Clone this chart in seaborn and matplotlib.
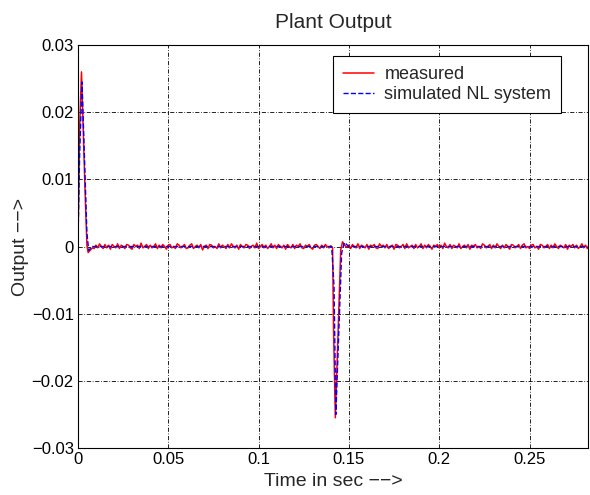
import numpy as np
import pandas as pd
import matplotlib
matplotlib.use("Agg")
import matplotlib.pyplot as plt
import seaborn as sns

sns.set_style("white")
plt.rcParams["font.family"] = ["Liberation Sans", "DejaVu Sans"]

# measured: first pulse (time, output)
pulse1_t = [0.0, 0.001, 0.002, 0.003, 0.004, 0.005, 0.0057, 0.007, 0.008]
pulse1_y = [0.0, 0.018, 0.026, 0.017, 0.008, 0.0002, -0.0009, -0.0005, -0.0002]

# measured: flat noisy part after first pulse, 1 ms steps from 0.009 (units 1e-4)
noise_a = [-3, 2, -2, 4, 0, -3, 3, -2, 2, -4, 3, 0, -2, 4, -3, 2, 0, -3, 3, 2,
           -2, -4, 3, 0, 2, -3, 5, -2, 0, 3, -3, 2, -2, 0, 4, -3, 2, -2, 3, 0,
           -4, 2, 3, -2, 0, -3, 4, 2, -2, 0, 3, -3, -2, 2, 4, -3, 0, 2, -2, 3,
           -5, 0, 2, -3, 3, 2, -2, 0, -3, 4, -2, 2, 0, -3, 3, -2, 4, 0, -2, 2,
           -4, 3, 0, -2, 3, 2, -3, 0, 2, -2, 5, -3, 0, 3, -2, 2, -3, 0, 4, -2,
           2, -3, 3, 0, -2, 2, -4, 3, 0, -2, 3, -3, 2, 0, 4, -2, -3, 2, 0, 3,
           -2, -4, 2, 3, 0, -3, 2, -2, 3, 0, -2]

# measured: second pulse
pulse2_t = [0.140, 0.141, 0.1415, 0.1425, 0.1435, 0.1445, 0.1455, 0.1465, 0.1475, 0.1485]
pulse2_y = [0.0001, -0.0002, -0.012, -0.0255, -0.017, -0.008, -0.0005, 0.0007, 0.0003, -0.0001]

# measured: flat noisy part after second pulse, 1 ms steps from 0.150 (units 1e-4)
noise_b = [2, -3, 3, 0, -2, 4, -3, 2, 0, -2, 3, -4, 2, 0, 3, -2, -3, 4, 0, 2,
           -2, 3, -3, 0, 2, -4, 3, 2, -2, 0, 3, -3, 4, -2, 0, 2, -3, 3, -2, 0,
           4, -3, 2, -2, 3, 0, -4, 2, 0, 3, -2, 2, -3, 5, 0, -2, 3, -3, 2, 0,
           -2, 4, -3, 0, 2, -2, 3, -4, 2, 0, 3, -2, 0, -3, 4, 2, -2, 0, 3, -3,
           2, -2, 4, 0, -3, 2, -2, 3, 0, -4, 3, 2, -2, 0, 3, -3, 2, 4, -2, 0,
           -3, 2, 3, -2, 0, -4, 3, 2, -2, 0, 3, -3, 2, -2, 4, 0, -3, 2, 0, -2,
           3, -4, 2, 0, 3, -2, 2, -3, 0, 4, -2, 2, -3]

# simulated NL system (smooth)
sim_t = [0.0, 0.001, 0.0023, 0.005, 0.006, 0.008, 0.1405, 0.1418, 0.1428,
         0.146, 0.1475, 0.150, 0.283]
sim_y = [0.0, 0.014, 0.0245, 0.002, -0.0006, 0.0, 0.0, -0.006, -0.025,
         -0.001, 0.0006, 0.0, 0.0]

xticks = [0, 0.05, 0.1, 0.15, 0.2, 0.25]
xticklabels = ["0", "0.05", "0.1", "0.15", "0.2", "0.25"]
yticks = [-0.03, -0.02, -0.01, 0, 0.01, 0.02, 0.03]
yticklabels = ["\u22120.03", "\u22120.02", "\u22120.01", "0", "0.01", "0.02", "0.03"]

# assemble measured series
t_a = 0.009 + 0.001 * np.arange(len(noise_a))
t_b = 0.150 + 0.001 * np.arange(len(noise_b))
meas = pd.DataFrame({
    "t": np.concatenate([pulse1_t, t_a, pulse2_t, t_b]),
    "y": np.concatenate([pulse1_y, np.array(noise_a) * 1e-4, pulse2_y, np.array(noise_b) * 1e-4]),
})
sim = pd.DataFrame({"t": sim_t, "y": sim_y})

fig = plt.figure(figsize=(5.9, 4.95), dpi=100)
ax = fig.add_axes([0.132, 0.095, 0.865, 0.814])

sns.lineplot(data=meas, x="t", y="y", ax=ax, color="red", linewidth=1.1,
             estimator=None, sort=False, label="measured")
sns.lineplot(data=sim, x="t", y="y", ax=ax, color="blue", linewidth=1.0,
             linestyle="--", estimator=None, sort=False, label="simulated NL system")

ax.set_xlim(0, 0.2825)
ax.set_ylim(-0.03, 0.03)
ax.set_xticks(xticks)
ax.set_xticklabels(xticklabels)
ax.set_yticks(yticks)
ax.set_yticklabels(yticklabels)
ax.grid(True, color="black", linestyle=(0, (5, 2, 1, 2)), linewidth=0.6)
ax.tick_params(direction="in", length=4, labelsize=12, colors="black", pad=3)
for s in ax.spines.values():
    s.set_color("black")
    s.set_linewidth(0.8)

ax.set_title("Plant Output", fontsize=15, pad=12)
ax.set_xlabel("Time in sec \u2212\u2212>", fontsize=14, labelpad=4)
ax.set_ylabel("Output \u2212\u2212>", fontsize=14, labelpad=2)

leg = ax.legend(loc="upper right", bbox_to_anchor=(0.947, 0.973), borderaxespad=0,
                fancybox=False, edgecolor="black", framealpha=1, fontsize=13,
                handlelength=1.7, handletextpad=0.6, borderpad=0.55, labelspacing=0.2)
leg.get_frame().set_linewidth(0.8)

fig.savefig("out.png", dpi=100)
